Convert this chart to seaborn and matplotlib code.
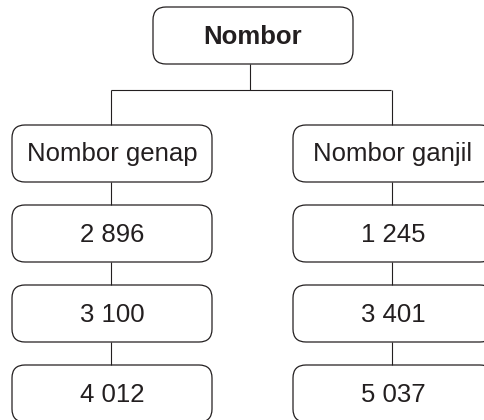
"""Tree diagram: Nombor -> genap / ganjil."""

import matplotlib
matplotlib.use("Agg")
import matplotlib.pyplot as plt
from matplotlib.patches import FancyBboxPatch
import seaborn as sns

# data
root_label = "Nombor"
group_labels = ["Nombor genap", "Nombor ganjil"]
even_values = ["2 896", "3 100", "4 012"]
odd_values = ["1 245", "3 401", "5 037"]

sns.set_theme(style="white")
plt.rcParams["font.family"] = ["Liberation Sans", "DejaVu Sans"]

W, H = 484, 420
fig = plt.figure(figsize=(W / 100, H / 100), dpi=100)
ax = fig.add_axes([0, 0, 1, 1])
ax.set_xlim(0, W)
ax.set_ylim(H, 0)
ax.axis("off")

ink = "#231f20"
box_w, box_h = 200, 57
col_x = [112, 393]
row_y = [125, 205, 285, 365]
root_x, root_y = 253, 7


def draw_box(cx, top, text, bold=False):
    box = FancyBboxPatch(
        (cx - box_w / 2, top), box_w, box_h,
        boxstyle="round,pad=0,rounding_size=13",
        facecolor="white", edgecolor=ink, linewidth=0.9,
    )
    ax.add_patch(box)
    ax.text(cx, top + box_h / 2 + 1, text, ha="center", va="center",
            fontsize=18.5, color=ink, fontweight="bold" if bold else "normal")


def connect(xs, ys):
    ax.plot(xs, ys, color=ink, linewidth=0.8, solid_capstyle="butt")


# connectors
mid_y = 90
connect([250, 250], [root_y + box_h, mid_y])
connect([col_x[0] - 1, col_x[1] - 2], [mid_y, mid_y])
for cx in col_x:
    connect([cx - 1.5, cx - 1.5], [mid_y, row_y[0]])
    for top, nxt in zip(row_y[:-1], row_y[1:]):
        connect([cx - 1.5, cx - 1.5], [top + box_h, nxt])

draw_box(root_x, root_y, root_label, bold=True)
for cx, label, values in zip(col_x, group_labels, [even_values, odd_values]):
    draw_box(cx, row_y[0], label)
    for top, val in zip(row_y[1:], values):
        draw_box(cx, top, val)

fig.savefig("out.png", dpi=100, facecolor="white")
